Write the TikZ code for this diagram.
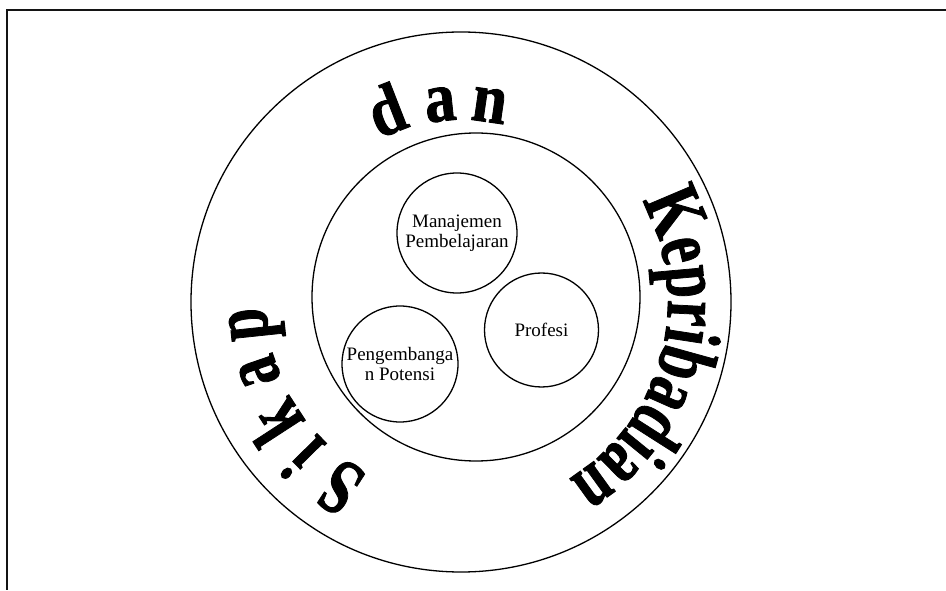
\documentclass[tikz,border=0pt]{standalone}
\usepackage{fontspec}
\setmainfont{Liberation Serif}
% heavy serif used for the lettering round the ring
\newfontfamily\ringserif{Liberation Serif}[BoldFeatures={FakeBold=1.3}]

% one glyph set on a circle: baseline tangent to the circle, top pointing outwards
% #1 style, #2 node name, #3 polar angle, #4 baseline radius, #5 glyph
\newcommand{\arcglyph}[5]{%
  \begin{scope}[shift={(#3:#4)}, rotate={#3-90}]
    \node[#1] (#2) at (0,0) {#5};
  \end{scope}}

\begin{document}
\begin{tikzpicture}[x=1pt, y=1pt,
  frameline/.style={line width=1.8pt, draw=black!92},
  ring/.style={circle, draw, line width=1.3pt, inner sep=0pt},
  bubble/.style={circle, draw, line width=1.3pt, inner sep=0pt, align=center,
    font=\fontsize{19}{19.5}\selectfont},
  bigglyph/.style={font=\ringserif\fontsize{58}{58}\selectfont\bfseries, anchor=base,
    inner sep=0pt, transform shape, yscale=1.38},
  topglyph/.style={font=\ringserif\fontsize{62}{62}\selectfont\bfseries, anchor=base,
    inner sep=0pt, transform shape, yscale=1.15}
]
\useasboundingbox (0,0) rectangle (946,590);

% page frame (top and left edges)
\coordinate (frameTR) at (946,580);
\coordinate (frameTL) at (7,580);
\coordinate (frameBL) at (7,0);
\draw[frameline] (frameTR) -- (frameTL) -- (frameBL);

% rings
\node[ring, minimum size=540pt] (outer) at (461,288) {};
\node[ring, minimum size=328pt] (middle) at (476,293) {};

% inner circles
\node[bubble, minimum size=120pt] (manajemen) at (457,357) {Manajemen\\Pembelajaran};
\node[bubble, minimum size=114pt] (profesi) at (541.5,260) {Profesi};
\node[bubble, minimum size=116pt] (potensi) at (400,226) {Pengembanga\\n Potensi};

% curved lettering around the outer ring
\begin{scope}[shift={(outer.center)}]
  % left side
  \arcglyph{bigglyph}{s1}{237}{195}{S}
  \arcglyph{bigglyph}{s2}{224.5}{195}{i}
  \arcglyph{bigglyph}{s3}{213}{195}{k}
  \arcglyph{bigglyph}{s4}{199}{195}{a}
  \arcglyph{bigglyph}{s5}{186}{195}{p}
  % top
  \arcglyph{topglyph}{d1}{111.3}{182}{d}
  \arcglyph{topglyph}{d2}{96}{182}{a}
  \arcglyph{topglyph}{d3}{81.8}{182}{n}
  % right side
  \arcglyph{bigglyph}{k1}{23}{207}{K}
  \arcglyph{bigglyph}{k2}{13.2}{207}{e}
  \arcglyph{bigglyph}{k3}{5.1}{207}{p}
  \arcglyph{bigglyph}{k4}{-2.9}{207}{r}
  \arcglyph{bigglyph}{k5}{-8.7}{207}{i}
  \arcglyph{bigglyph}{k6}{-15.5}{207}{b}
  \arcglyph{bigglyph}{k7}{-24}{207}{a}
  \arcglyph{bigglyph}{k8}{-32.5}{207}{d}
  \arcglyph{bigglyph}{k9}{-39.2}{207}{i}
  \arcglyph{bigglyph}{k10}{-45.4}{207}{a}
  \arcglyph{bigglyph}{k11}{-54.2}{207}{n}
\end{scope}
\end{tikzpicture}
\end{document}
